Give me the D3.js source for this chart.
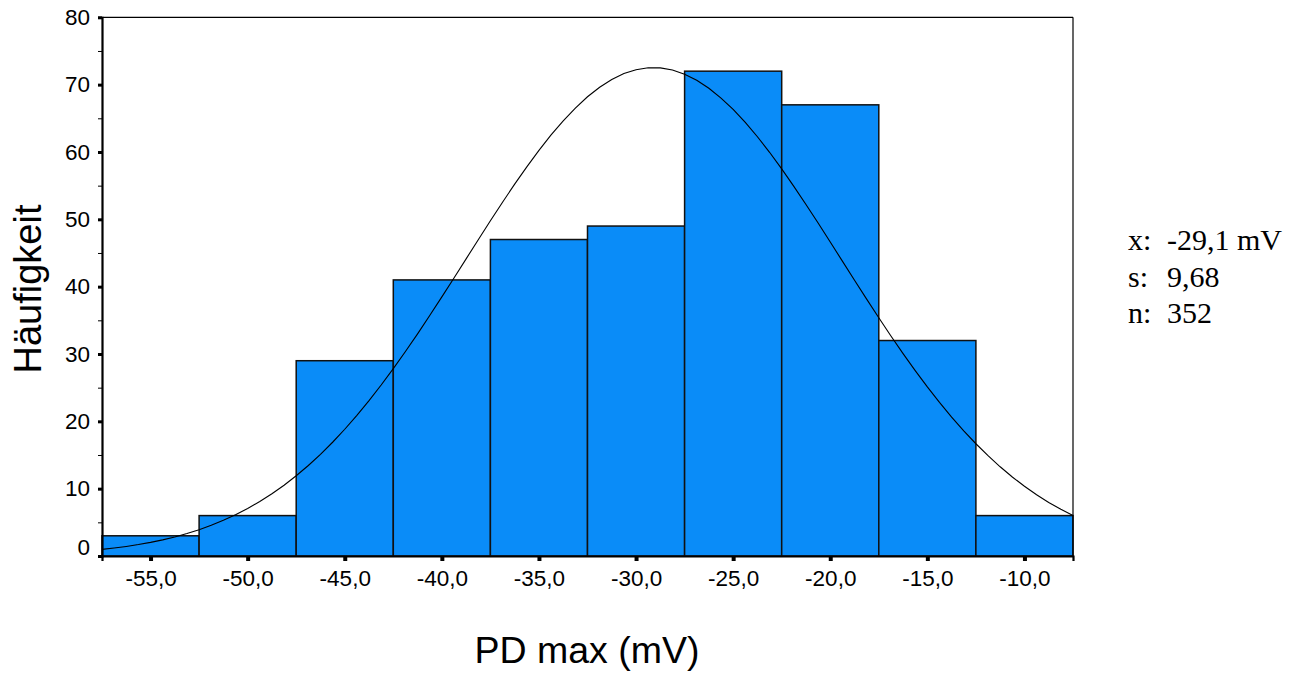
<!DOCTYPE html>
<html><head><meta charset="utf-8">
<script src="https://cdn.jsdelivr.net/npm/d3@7"></script>
<style>
body{margin:0;background:#fff;}
svg{display:block;}
</style></head>
<body><svg id="c" width="1306" height="675"></svg>
<script>
// Data
const binCenters = [-55, -50, -45, -40, -35, -30, -25, -20, -15, -10];
const counts = [3, 6, 29, 41, 47, 49, 72, 67, 32, 6];
const binWidth = 5;
const xTickLabels = ["-55,0","-50,0","-45,0","-40,0","-35,0","-30,0","-25,0","-20,0","-15,0","-10,0"];
const yTicks = [0,10,20,30,40,50,60,70,80];
const yMinorTicks = [5,15,25,35,45,55,65,75];
const statLabels = ["x:", "s:", "n:"];
const statValues = ["-29,1 mV", "9,68", "352"];
const meanVal = -29.1, sdVal = 9.68, nVal = 352;

const svg = d3.select("#c");
const L = 102, R = 1073, T = 17.3, B = 556;
const x = d3.scaleLinear().domain([-57.5, -7.5]).range([L, R]);
const y = d3.scaleLinear().domain([0, 80]).range([B, T]);

// bars
svg.append("g").selectAll("rect").data(binCenters).join("rect")
  .attr("x", (d)=>x(d - binWidth/2))
  .attr("width", (d)=>x(d + binWidth/2) - x(d - binWidth/2))
  .attr("y", (d,i)=>y(counts[i]))
  .attr("height", (d,i)=>y(0) - y(counts[i]))
  .attr("fill", "#0a8cf8")
  .attr("stroke", "#111")
  .attr("stroke-width", 1.5);

// normal curve from displayed statistics
const curveX = d3.range(-57.5, -7.5 + 0.001, 50/80);
const curveY = curveX.map(v => nVal * binWidth / (sdVal * Math.sqrt(2*Math.PI)) * Math.exp(-0.5*Math.pow((v-meanVal)/sdVal,2)));
svg.append("path")
  .datum(curveX.map((v,i)=>[v, curveY[i]]))
  .attr("fill","none").attr("stroke","#000").attr("stroke-width",1.1)
  .attr("d", d3.line().x(d=>x(d[0])).y(d=>y(d[1])));

// frame
svg.append("line").attr("x1",L).attr("x2",R).attr("y1",T).attr("y2",T).attr("stroke","#000").attr("stroke-width",1.2);
svg.append("line").attr("x1",R).attr("x2",R).attr("y1",T).attr("y2",B).attr("stroke","#000").attr("stroke-width",1.2);

// y axis
const yAxis = d3.axisLeft(y).tickValues(yTicks).tickSize(4).tickPadding(8).tickFormat(d3.format("d"));
const gy = svg.append("g").attr("transform",`translate(${L},0)`).call(yAxis);
gy.select(".domain").attr("stroke","#000").attr("stroke-width",2.2);
gy.selectAll(".tick line").attr("stroke","#000").attr("stroke-width",3);
gy.selectAll(".tick text").attr("font-family","'Liberation Sans', Arial, sans-serif").attr("font-size",22.5).attr("fill","#000")
  .attr("dy", (d)=> d===0 ? "-0.05em" : "0.32em");
const yMinor = d3.axisLeft(y).tickValues(yMinorTicks).tickSize(4).tickFormat("");
const gym = svg.append("g").attr("transform",`translate(${L},0)`).call(yMinor);
gym.select(".domain").remove();
gym.selectAll(".tick line").attr("stroke","#000").attr("stroke-width",1);

// x axis
const xAxis = d3.axisBottom(x).tickValues(binCenters).tickSize(5).tickPadding(9).tickFormat((d,i)=>xTickLabels[i]);
const gx = svg.append("g").attr("transform",`translate(0,${B})`).call(xAxis);
gx.select(".domain").attr("stroke","#000").attr("stroke-width",2.2);
gx.selectAll(".tick line").attr("stroke","#000").attr("stroke-width",4);
gx.selectAll(".tick text").attr("font-family","'Liberation Sans', Arial, sans-serif").attr("font-size",22.5).attr("fill","#000");

// axis titles
svg.append("text").attr("x",587).attr("y",663).attr("text-anchor","middle")
  .attr("font-family","'Liberation Sans', Arial, sans-serif").attr("font-size",37.5).text("PD max (mV)");
svg.append("text").attr("transform","translate(41,289) rotate(-90)").attr("text-anchor","middle")
  .attr("font-family","'Liberation Sans', Arial, sans-serif").attr("font-size",38).text("Häufigkeit");

// stats
const st = svg.append("g").attr("font-family","'Liberation Serif', 'Times New Roman', serif").attr("font-size",30).attr("fill","#000");
statLabels.forEach((s,i)=>{
  st.append("text").attr("x",1128).attr("y",250 + i*36.5).text(s);
  st.append("text").attr("x",1167).attr("y",250 + i*36.5).text(statValues[i]);
});
</script></body></html>
